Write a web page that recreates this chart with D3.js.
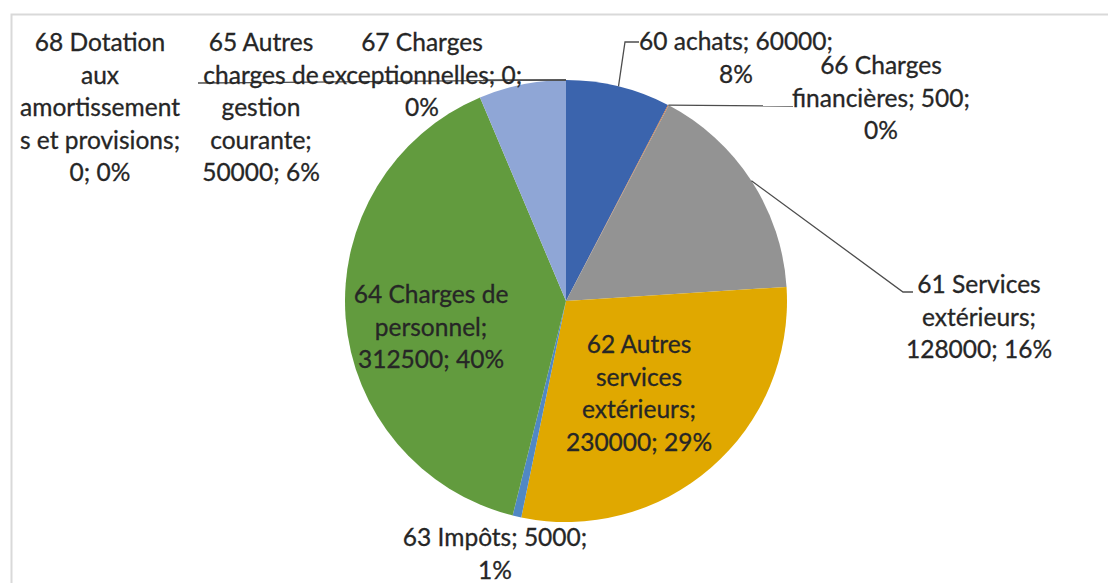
<!DOCTYPE html>
<html><head><meta charset="utf-8">
<script src="https://cdn.jsdelivr.net/npm/d3@7"></script>
<style>body{margin:0;background:#fff;} svg{display:block}</style>
</head><body><svg id="c" width="1108" height="583"></svg>
<script>
// ---- data ----
const categories = ["60 achats", "66 Charges financières", "61 Services extérieurs",
  "62 Autres services extérieurs", "63 Impôts", "64 Charges de personnel",
  "65 Autres charges de gestion courante", "67 Charges exceptionnelles",
  "68 Dotation aux amortissements et provisions"];
const values = [60000, 500, 128000, 230000, 5000, 312500, 50000, 0, 0];
const colors = ["#3b64ad", "#d0702f", "#939393", "#e0a800", "#5088c4", "#629b3e", "#8fa6d6", "#7a7a7a", "#555555"];
// label text as wrapped in the chart ({v} = value, {p} = percentage)
const labelLines = [
  ["60 achats; {v};", "{p}%"],
  ["66 Charges", "financières; {v};", "{p}%"],
  ["61 Services", "extérieurs;", "{v}; {p}%"],
  ["62 Autres", "services", "extérieurs;", "{v}; {p}%"],
  ["63 Impôts; {v};", "{p}%"],
  ["64 Charges de", "personnel;", "{v}; {p}%"],
  ["65 Autres", "charges de", "gestion", "courante;", "{v}; {p}%"],
  ["67 Charges", "exceptionnelles; {v};", "{p}%"],
  ["68 Dotation", "aux", "amortissement", "s et provisions;", "{v}; {p}%"]
];

// ---- layout ----
const svg = d3.select("#c");
const cx = 566, cy = 301, R = 221;
const total = d3.sum(values);
const pie = d3.pie().sort(null).value(d => d).startAngle(0).endAngle(2 * Math.PI);
const arcs = pie(values);
const arc = d3.arc().innerRadius(0).outerRadius(R);

// chart area border
svg.append("path").attr("d", "M11.5,583 L11.5,14.5 L1108,14.5")
  .attr("fill", "none").attr("stroke", "#d9d9d9").attr("stroke-width", 2);

const g = svg.append("g").attr("transform", `translate(${cx},${cy})`);
g.selectAll("path.slice").data(arcs).join("path").attr("class", "slice")
  .attr("d", arc).attr("fill", (d, i) => colors[i]);

// leader lines (start at slice edge, then to the label)
const edge = (i, a) => {
  const d = arcs[i];
  const ang = a !== undefined ? a : (d.startAngle + d.endAngle) / 2;
  return [cx + R * Math.sin(ang), cy - R * Math.cos(ang)];
};
const leaders = [
  [edge(0), [625, 42], [639, 42]],
  [edge(1), [793, 106]],
  [edge(2), [903, 292], [913, 292]],
  [edge(7, 2 * Math.PI), [198, 83]],
  [edge(8, 2 * Math.PI), [483, 80]]
];
svg.selectAll("path.leader").data(leaders).join("path").attr("class", "leader")
  .attr("d", d3.line()).attr("fill", "none").attr("stroke", "#4d4d4d").attr("stroke-width", 1.3);

// label anchors: centre x, first baseline
const labelPos = [[736, 50], [881, 74], [979, 293], [639, 353], [495, 546], [431, 303], [261, 51], [422, 51], [100, 51]];
const lineH = 32.5;
const fontFamily = "Lato, 'Open Sans', sans-serif";

// fit font size to the reference width of the first label line
const probe = svg.append("text").attr("font-family", fontFamily).attr("font-size", 25)
  .text("60 achats; 60000;");
const w = probe.node().getComputedTextLength();
probe.remove();
const fs = 25 * 194 / w;

const fmt = (s, i) => s.replace("{v}", values[i]).replace("{p}", Math.round(values[i] / total * 100));
const labels = svg.selectAll("text.lbl").data(labelLines).join("text").attr("class", "lbl")
  .attr("font-family", fontFamily).attr("font-size", fs).attr("fill", "#262626")
  .attr("stroke", "#262626").attr("stroke-width", 0.3)
  .attr("text-anchor", "middle")
  .attr("transform", (d, i) => `translate(${labelPos[i][0]},${labelPos[i][1]})`);
labels.each(function (lines, i) {
  d3.select(this).selectAll("tspan").data(lines).join("tspan")
    .attr("x", 0).attr("y", (d, k) => k * lineH).text(d => fmt(d, i));
});
</script></body></html>
